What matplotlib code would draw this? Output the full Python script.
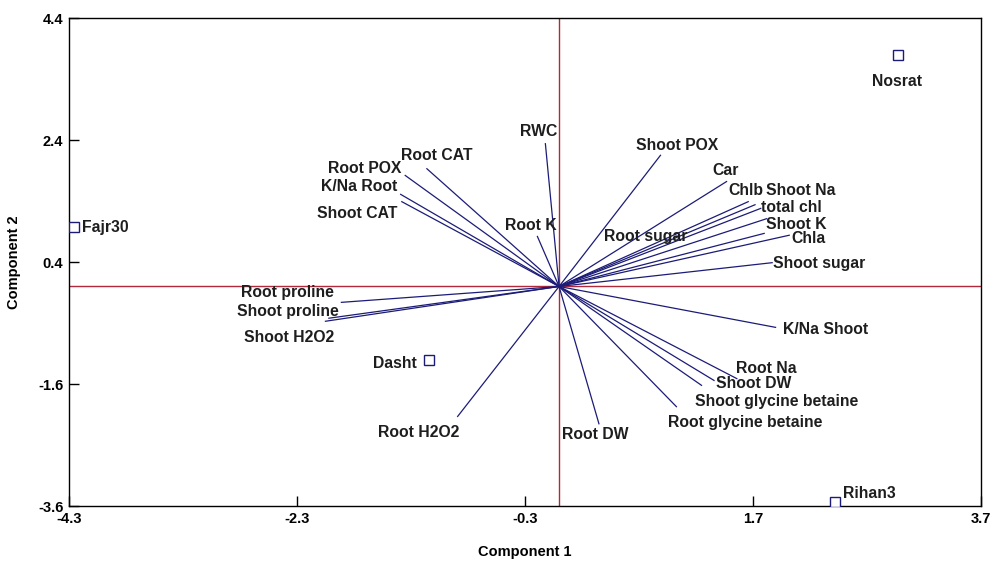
import matplotlib
matplotlib.use("Agg")
import matplotlib.pyplot as plt
from matplotlib import font_manager

# Variable names (loadings) and their vector endpoints (Component 1, Component 2)
var_names = ["RWC", "Root CAT", "Root POX", "K/Na Root", "Shoot CAT", "Root K",
             "Root proline", "Shoot proline", "Shoot H2O2", "Root H2O2", "Root DW",
             "Root glycine betaine", "Shoot glycine betaine", "Shoot DW", "Root Na",
             "K/Na Shoot", "Shoot POX", "Car", "Chlb", "Shoot Na", "total chl",
             "Shoot K", "Root sugar", "Chla", "Shoot sugar"]
var_x = [-0.12, -1.16, -1.35, -1.39, -1.38, -0.19,
         -1.91, -2.05, -2.02, -0.89, 0.35,
         1.03, 1.25, 1.36, 1.56,
         1.90, 0.89, 1.47, 1.66, 1.72, 1.77,
         1.82, 1.80, 2.02, 1.87]
var_y = [2.34, 1.93, 1.82, 1.51, 1.39, 0.82,
         -0.26, -0.57, -0.52, -2.13, -2.25,
         -1.97, -1.62, -1.54, -1.51,
         -0.67, 2.15, 1.72, 1.39, 1.34, 1.28,
         1.11, 0.87, 0.84, 0.39]

# Cultivars (scores)
obs_names = ["Nosrat", "Fajr30", "Dasht", "Rihan3"]
obs_x = [2.97, -4.26, -1.14, 2.42]
obs_y = [3.80, 0.97, -1.21, -3.54]

x_ticks = [-4.3, -2.3, -0.3, 1.7, 3.7]
y_ticks = [4.4, 2.4, 0.4, -1.6, -3.6]

# label anchor positions (layout, data units)
var_label_pos = [(-0.18, 2.54), (-1.07, 2.15), (-1.71, 1.93), (-1.75, 1.64), (-1.77, 1.20),
                 (-0.25, 1.00), (-2.38, -0.10), (-2.38, -0.41), (-2.37, -0.84), (-1.23, -2.39),
                 (0.32, -2.43), (1.63, -2.23), (1.91, -1.89), (1.71, -1.59), (1.82, -1.34),
                 (2.34, -0.70), (1.04, 2.31), (1.46, 1.90), (1.64, 1.57), (2.12, 1.57),
                 (2.04, 1.30), (2.08, 1.02), (0.76, 0.82), (2.19, 0.79), (2.28, 0.38)]


def pick_font(names):
    for n in names:
        try:
            font_manager.findfont(n, fallback_to_default=False)
            return n
        except Exception:
            pass
    return "DejaVu Sans"


main_font = pick_font(["Liberation Sans", "Arial"])
narrow_font = pick_font(["Liberation Sans Narrow", "Liberation Sans"])
plt.rcParams['font.family'] = main_font

fig = plt.figure(figsize=(9.92, 5.63), dpi=100)
ax = fig.add_axes([0.0696, 0.101, 0.919, 0.867])

ax.set_xlim(-4.3, 3.7)
ax.set_ylim(-3.6, 4.4)

navy = "#1c1c78"
red = "#b0283a"
txt = "#1e1e1e"
fs = 11.3

# axes cross through origin
ax.axvline(0, color=red, lw=1.0, zorder=1)
ax.axhline(0, color=red, lw=1.0, zorder=1)

# loading vectors
for name, x, y, pos in zip(var_names, var_x, var_y, var_label_pos):
    ax.plot([0, x], [0, y], color=navy, lw=0.9, zorder=2)
    ax.text(pos[0], pos[1], name, ha="center", va="center", fontsize=fs,
            fontweight="bold", color=txt, zorder=3)

# observations
ax.plot(obs_x, obs_y, linestyle="none", marker="s", markersize=6.5,
        markerfacecolor="white", markeredgecolor=navy, markeredgewidth=1.0, zorder=4)
ax.annotate(obs_names[0], (obs_x[0], obs_y[0]), xytext=(0, -25), textcoords="offset points",
            ha="center", va="bottom", fontsize=fs, fontweight="bold", color=txt)
ax.annotate(obs_names[1], (obs_x[1], obs_y[1]), xytext=(6, 0), textcoords="offset points",
            ha="left", va="center", fontsize=fs, fontweight="bold", color=txt)
ax.annotate(obs_names[2], (obs_x[2], obs_y[2]), xytext=(-9, -2), textcoords="offset points",
            ha="right", va="center", fontsize=fs, fontweight="bold", color=txt)
ax.annotate(obs_names[3], (obs_x[3], obs_y[3]), xytext=(6, 1), textcoords="offset points",
            ha="left", va="bottom", fontsize=fs, fontweight="bold", color=txt)

ax.set_xticks(x_ticks)
ax.set_xticklabels([f"{t:.1f}" for t in x_ticks])
ax.set_yticks(y_ticks)
ax.set_yticklabels([f"{t:.1f}" for t in y_ticks])
ax.tick_params(direction="in", length=7, width=1, top=False, right=False, pad=4)
for lab in ax.get_xticklabels() + ax.get_yticklabels():
    lab.set_fontfamily(narrow_font)
    lab.set_fontweight("bold")
    lab.set_fontsize(10.5)
for sp in ax.spines.values():
    sp.set_linewidth(1.0)

ax.set_xlabel("Component 1", fontsize=10.5, fontweight="bold", labelpad=14)
ax.set_ylabel("Component 2", fontsize=10.5, fontweight="bold", labelpad=12)

fig.savefig("out.png", dpi=100)
